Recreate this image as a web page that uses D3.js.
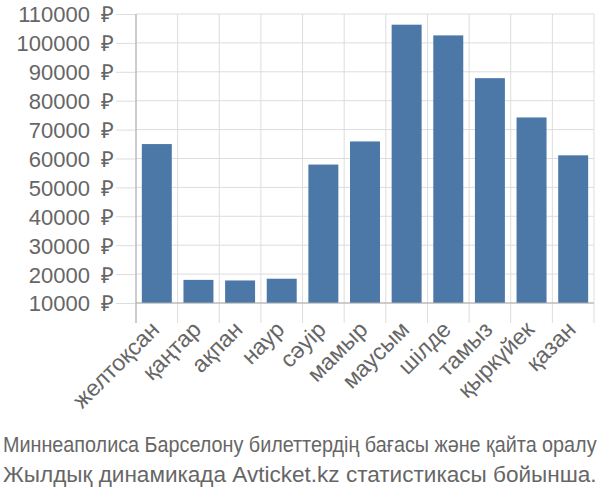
<!DOCTYPE html>
<html>
<head>
<meta charset="utf-8">
<script src="https://cdn.jsdelivr.net/npm/d3@7"></script>
<style>
  html, body { margin: 0; padding: 0; background: #fff; }
  svg { display: block; font-family: "Liberation Sans", Arial, sans-serif; }
</style>
</head>
<body>
<div id="chart"></div>
<script>
const categories = ["желтоқсан", "қаңтар", "ақпан", "наур", "сәуір", "мамыр", "маусым", "шілде", "тамыз", "қыркүйек", "қазан"];
const prices = [65000, 18000, 17800, 18400, 57900, 65900, 106300, 102600, 87800, 74200, 61100];
const yTicks = [10000, 20000, 30000, 40000, 50000, 60000, 70000, 80000, 90000, 100000, 110000];
const titleLines = ["Миннеаполиса Барселону билеттердің бағасы және қайта оралу", "Жылдық динамикада Avticket.kz статистикасы бойынша."];

const W = 600, H = 500;
const m = { left: 136, right: 6, top: 14, bottom: 197 };

const svg = d3.select("#chart").append("svg").attr("width", W).attr("height", H);

const x = d3.scaleBand().domain(categories).range([m.left, W - m.right]).paddingInner(0.28).paddingOuter(0.14);
const y = d3.scaleLinear().domain([10000, 110000]).range([H - m.bottom, m.top]);

const gridColor = "#dddddd", textColor = "#666666", axisColor = "#aaaaaa";

// horizontal gridlines + y ticks
const yAxis = d3.axisLeft(y).tickValues(yTicks).tickSize(20).tickPadding(2).tickFormat(d => d + "\u2002₽");
const gy = svg.append("g").attr("transform", `translate(${m.left},0)`).call(yAxis);
gy.select(".domain").remove();
gy.selectAll(".tick line").attr("stroke", gridColor);
gy.selectAll(".tick text").attr("fill", textColor).style("font-size", "22px").attr("dy", "0.36em");
svg.append("g").selectAll("line").data(yTicks).join("line")
  .attr("x1", m.left).attr("x2", W - m.right)
  .attr("y1", d => y(d)).attr("y2", d => y(d))
  .attr("stroke", gridColor);

// vertical gridlines at band boundaries
const step = x.step();
const x0 = m.left;
const bounds = d3.range(categories.length + 1).map(i => x0 + i * step);
svg.append("g").selectAll("line").data(bounds).join("line")
  .attr("x1", d => d).attr("x2", d => d)
  .attr("y1", m.top).attr("y2", H - m.bottom + 20)
  .attr("stroke", gridColor);

// bars
svg.append("g").selectAll("rect").data(prices).join("rect")
  .attr("x", (d, i) => x(categories[i]))
  .attr("width", x.bandwidth())
  .attr("y", d => y(d))
  .attr("height", d => y(10000) - y(d))
  .attr("fill", "#4c78a8");

// axis lines
svg.append("line").attr("x1", m.left).attr("x2", m.left).attr("y1", m.top).attr("y2", H - m.bottom + 20).attr("stroke", axisColor).attr("stroke-width", 1);
svg.append("line").attr("x1", m.left).attr("x2", W - m.right).attr("y1", y(10000)).attr("y2", y(10000)).attr("stroke", axisColor);

// x labels
const xAxis = d3.axisBottom(x).tickSize(0).tickPadding(0);
const gx = svg.append("g").attr("transform", `translate(0,${H - m.bottom})`).call(xAxis);
gx.select(".domain").remove();
gx.selectAll(".tick text")
  .attr("fill", textColor).style("font-size", "23px")
  .attr("text-anchor", "end")
  .attr("transform", "translate(4,28) rotate(-45)")
  .attr("dy", 0).attr("y", 0).attr("x", 0);

// title (fit to full width)
const titleW = 594;
svg.append("g").selectAll("text").data(titleLines).join("text")
  .attr("x", 0).attr("y", 0)
  .attr("fill", textColor).style("font-size", "22px")
  .text(d => d)
  .each(function(d, i) {
    const w = this.getComputedTextLength();
    const s = titleW / w;
    d3.select(this).attr("transform", `translate(3,${452 + i * 30}) scale(${s},1)`);
  });
</script>
</body>
</html>
